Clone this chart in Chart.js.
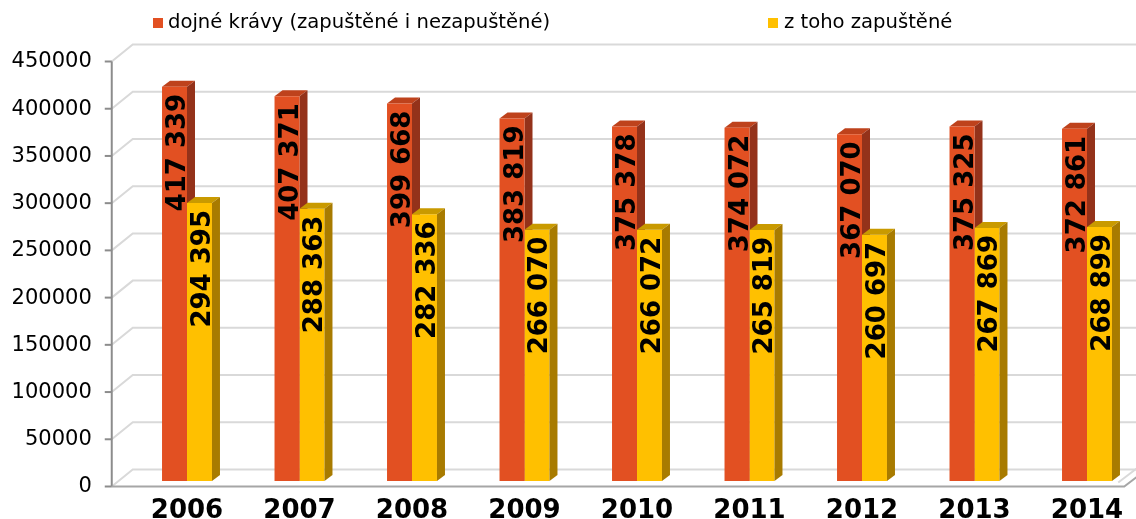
<!DOCTYPE html>
<html><head><meta charset="utf-8">
<script src="https://cdn.jsdelivr.net/npm/chart.js@4.4.0/dist/chart.umd.min.js"></script>
<style>
html,body{margin:0;padding:0;background:#fff;overflow:hidden;}
#wrap{position:relative;width:1136px;height:519px;overflow:hidden;background:#fff;}
#box{position:absolute;left:0;top:0;width:1160px;height:541px;}
.sw{position:absolute;width:10px;height:10px;top:18px;}
.lt{position:absolute;top:10px;font-family:"DejaVu Sans";font-size:19.6px;line-height:24px;color:#000;white-space:nowrap;}
</style></head>
<body>
<div id="wrap">
  <div id="box"><canvas id="c"></canvas></div>
  <div class="sw" style="left:153px;background:#E25022"></div>
  <div class="lt" style="left:168px" id="l0"></div>
  <div class="sw" style="left:768px;background:#FFC000"></div>
  <div class="lt" style="left:784px" id="l1"></div>
</div>
<script>
const categories = ['2006','2007','2008','2009','2010','2011','2012','2013','2014'];
const seriesNames = ['dojné krávy (zapuštěné i nezapuštěné)', 'z toho zapuštěné'];
const dojneKravy = [417339, 407371, 399668, 383819, 375378, 374072, 367070, 375325, 372861];
const zapustene = [294395, 288363, 282336, 266070, 266072, 265819, 260697, 267869, 268899];
const yTicks = [0, 50000, 100000, 150000, 200000, 250000, 300000, 350000, 400000, 450000];

document.getElementById('l0').textContent = seriesNames[0];
document.getElementById('l1').textContent = seriesNames[1];

const faceColors = [
  {front:'#E25022', top:'#BE421C', side:'#94321A'},
  {front:'#FFC000', top:'#C99A00', side:'#A87B00'}
];
const DX = 8, DY = 6;
const FRONT_OFF = 5.5, BACK_OFF = -11.5;

function fmt(v){ return String(v).replace(/\B(?=(\d{3})+(?!\d))/g, ' '); }

function drawTopSide(ctx, el, c){
  const p = el.getProps(['x','y','base','width'], true);
  const x0 = p.x - p.width/2, x1 = p.x + p.width/2, t = p.y, b = p.base;
  ctx.fillStyle = c.top;
  ctx.beginPath();
  ctx.moveTo(x0, t); ctx.lineTo(x1, t); ctx.lineTo(x1+DX, t-DY); ctx.lineTo(x0+DX, t-DY); ctx.closePath();
  ctx.fill();
  ctx.fillStyle = c.side;
  ctx.beginPath();
  ctx.moveTo(x1, t); ctx.lineTo(x1+DX, t-DY); ctx.lineTo(x1+DX, b-DY); ctx.lineTo(x1, b); ctx.closePath();
  ctx.fill();
}

const wallPlugin = {
  id: 'wall',
  beforeDatasetsDraw(chart){
    const ctx = chart.ctx, ys = chart.scales.y, area = chart.chartArea;
    const fx = area.left - 19, bx = area.left + 2;
    ctx.save();
    ctx.lineWidth = 2;
    ctx.strokeStyle = '#D9D9D9';
    yTicks.forEach(v => {
      const yb = ys.getPixelForValue(v);
      ctx.beginPath();
      ctx.moveTo(fx, yb + FRONT_OFF);
      ctx.lineTo(bx, yb + BACK_OFF);
      ctx.lineTo(chart.width, yb + BACK_OFF);
      ctx.stroke();
    });
    const y0f = ys.getPixelForValue(0) + FRONT_OFF;
    const ex = area.right - 19;
    ctx.beginPath();
    ctx.moveTo(ex - 6, y0f - 4); ctx.lineTo(ex + 15, y0f - 20);
    ctx.stroke();
    ctx.strokeStyle = '#8C8C8C';
    const yTop = ys.getPixelForValue(yTicks[yTicks.length-1]) + FRONT_OFF;
    ctx.beginPath();
    ctx.moveTo(fx, yTop); ctx.lineTo(fx, y0f);
    ctx.stroke();
    yTicks.forEach(v => {
      const yf = ys.getPixelForValue(v) + FRONT_OFF;
      ctx.beginPath(); ctx.moveTo(fx - 7, yf); ctx.lineTo(fx, yf); ctx.stroke();
    });
    ctx.strokeStyle = '#A6A6A6';
    ctx.beginPath();
    ctx.moveTo(fx, y0f); ctx.lineTo(ex, y0f); ctx.lineTo(ex + 21, y0f - 16);
    ctx.stroke();
    const m0 = chart.getDatasetMeta(0);
    m0.data.forEach(el => drawTopSide(ctx, el, faceColors[0]));
    ctx.restore();
  },
  afterDatasetsDraw(chart){
    const ctx = chart.ctx;
    ctx.save();
    const m1 = chart.getDatasetMeta(1);
    m1.data.forEach(el => drawTopSide(ctx, el, faceColors[1]));
    ctx.fillStyle = '#000';
    ctx.font = 'bold 26px "DejaVu Sans"';
    ctx.textAlign = 'right';
    ctx.textBaseline = 'alphabetic';
    [0,1].forEach(di => {
      const meta = chart.getDatasetMeta(di);
      const vals = chart.data.datasets[di].data;
      meta.data.forEach((el, i) => {
        const p = el.getProps(['x','y'], true);
        ctx.save();
        ctx.translate(p.x + 1, p.y + 7);
        ctx.rotate(-Math.PI/2);
        ctx.fillText(fmt(vals[i]), 0, 9.5);
        ctx.restore();
      });
    });
    ctx.restore();
  }
};

new Chart(document.getElementById('c'), {
  type: 'bar',
  data: {
    labels: categories,
    datasets: [
      {label: seriesNames[0], data: dojneKravy, backgroundColor: faceColors[0].front, borderWidth: 0},
      {label: seriesNames[1], data: zapustene, backgroundColor: faceColors[1].front, borderWidth: 0}
    ]
  },
  options: {
    responsive: true,
    maintainAspectRatio: false,
    animation: false,
    events: [],
    layout: {padding: {top: 56, left: 0, right: 16.75, bottom: 0}},
    datasets: {bar: {categoryPercentage: 0.444, barPercentage: 1}},
    plugins: {legend: {display: false}, tooltip: {enabled: false}},
    scales: {
      x: {
        grid: {display: false, drawTicks: false},
        border: {display: false},
        ticks: {font: {family: 'DejaVu Sans', size: 26, weight: 'bold'}, color: '#000', padding: 15, maxRotation: 0, autoSkip: false},
        afterFit(s){ s.height = 60; }
      },
      y: {
        min: 0, max: 450000,
        grid: {display: false, drawTicks: false},
        border: {display: false},
        afterBuildTicks(s){ s.ticks = yTicks.map(v => ({value: v})); },
        ticks: {font: {family: 'DejaVu Sans', size: 21}, color: '#000', padding: 39, labelOffset: 6,
                callback: v => String(v)},
        afterFit(s){ s.width = 130.75; }
      }
    }
  },
  plugins: [wallPlugin]
});
</script>
</body></html>
